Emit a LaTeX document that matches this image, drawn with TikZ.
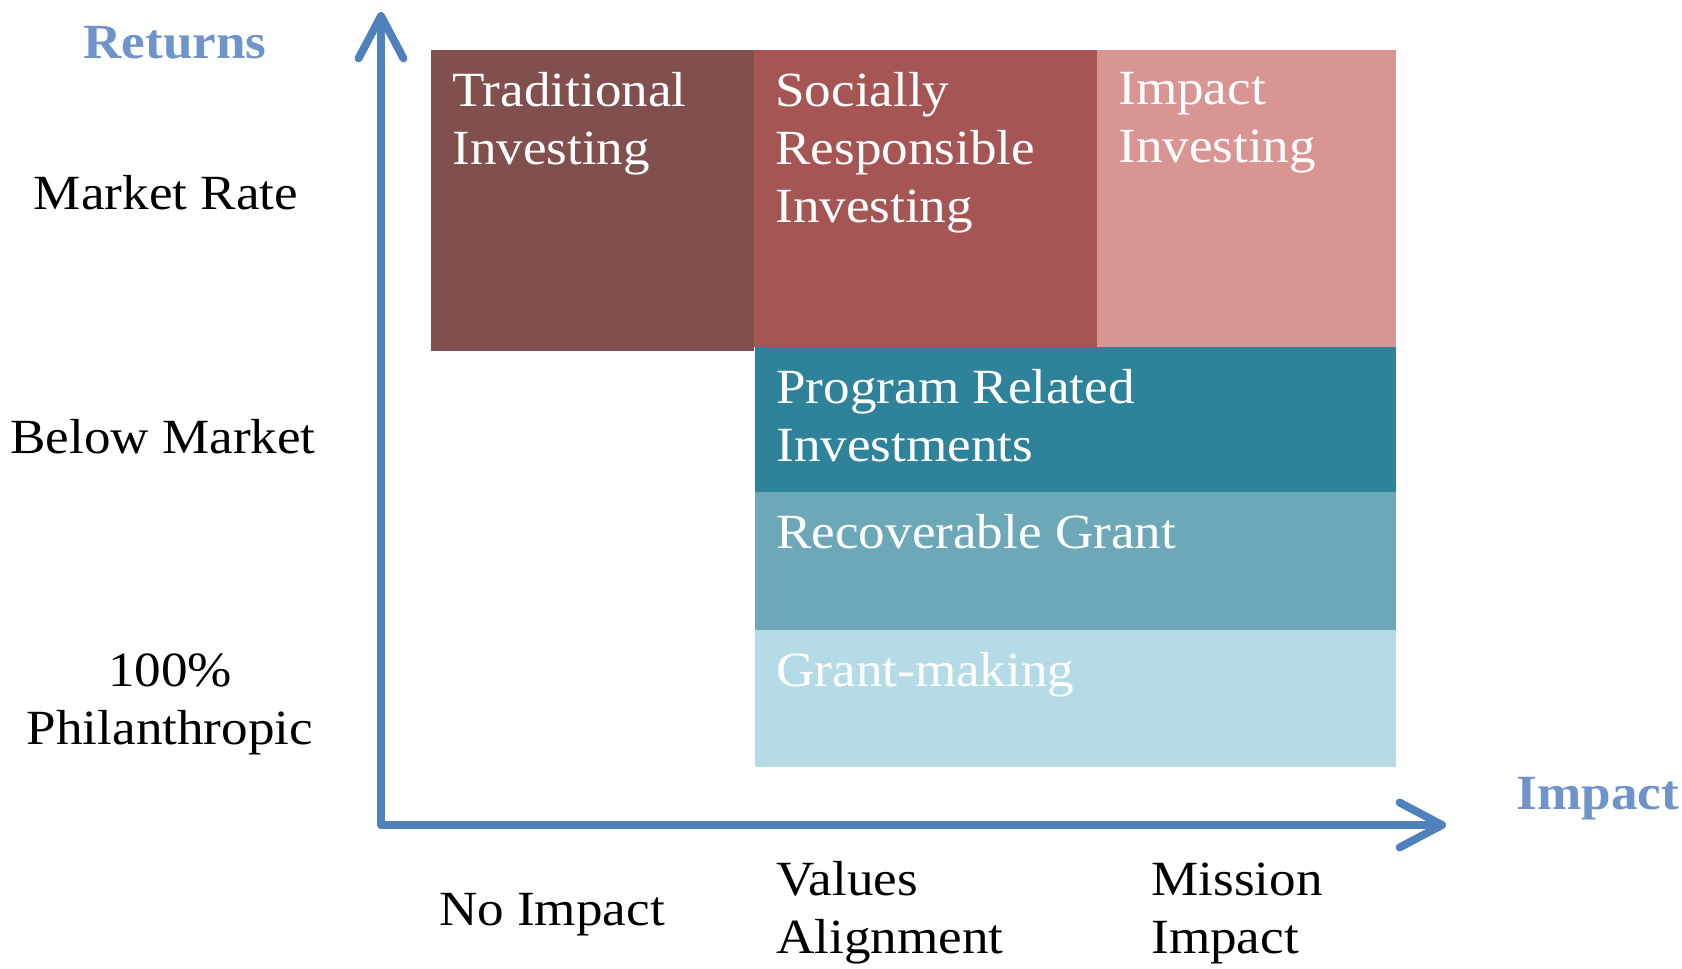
\documentclass[tikz,border=0pt]{standalone}
\usepackage{fontspec}
\setmainfont[FakeStretch=1.08]{Liberation Serif}
\usetikzlibrary{arrows.meta}
\definecolor{tradfill}{HTML}{814F4D}
\definecolor{srifill}{HTML}{A65555}
\definecolor{impfill}{HTML}{D99594}
\definecolor{prifill}{HTML}{2E8299}
\definecolor{recfill}{HTML}{6DA8B9}
\definecolor{grantfill}{HTML}{B5DCE6}
\definecolor{axisblue}{HTML}{4F81BD}
\definecolor{labelblue}{HTML}{6F94CA}
\newcommand{\bigfont}{\fontsize{28}{33}\selectfont}
\tikzset{
  box/.style={draw=none,inner sep=0pt,anchor=north west},
  boxtext/.style={anchor=north west,align=left,text=white,inner xsep=0.42cm,inner ysep=0.44cm,font=\bigfont},
  axislabel/.style={font=\bigfont,align=center},
  axis/.style={line width=4.5pt,draw=axisblue,line cap=round,line join=round,
    -{Straight Barb[length=0.85cm,width=0.9cm,line cap=round,round]}}
}
\begin{document}
\begin{tikzpicture}[x=0.02cm,y=-0.02cm]
\useasboundingbox (0,0) rectangle (1682,969);
%boxes
\node[box,fill=tradfill,minimum width=6.46cm,minimum height=6.02cm](trad)at(431,50){};
\node[box,fill=srifill,minimum width=6.86cm,minimum height=5.94cm](sri)at(754,50){};
\node[box,fill=impfill,minimum width=5.98cm,minimum height=5.94cm](imp)at(1097,50){};
\node[box,fill=prifill,minimum width=12.82cm,minimum height=2.9cm](pri)at(755,347){};
\node[box,fill=recfill,minimum width=12.82cm,minimum height=2.76cm](rec)at(755,492){};
\node[box,fill=grantfill,minimum width=12.82cm,minimum height=2.74cm](grant)at(755,630){};
%box texts
\node[boxtext](tradtext)at(trad.north west){Traditional\\Investing};
\node[boxtext](sritext)at(sri.north west){Socially\\Responsible\\Investing};
\node[boxtext](imptext)at(imp.north west){Impact\\Investing};
\node[boxtext](pritext)at(pri.north west){Program Related\\Investments};
\node[boxtext](rectext)at(rec.north west){Recoverable Grant};
\node[boxtext](granttext)at(grant.north west){Grant-making};
%axes
\coordinate(origin)at(381,825);
\coordinate(ytip)at(381,12);
\coordinate(xtip)at(1446,825);
\draw[axis](origin)--(ytip);
\draw[axis](origin)--(xtip);
%labels
\node[axislabel,text=labelblue,font=\bigfont\bfseries](returns)at(175,43){Returns};
\node[axislabel,text=labelblue,font=\bigfont\bfseries](impact)at(1598,799){Impact};
\node[axislabel](market)at(166,193){Market Rate};
\node[axislabel](below)at(163,437){Below Market};
\node[axislabel](phil)at(170,704){100\%\\Philanthropic};
\node[axislabel](noimp)at(552,915){No Impact};
\node[axislabel,align=left,anchor=west,inner xsep=0pt](values)at(776,913){Values\\Alignment};
\node[axislabel,align=left,anchor=west,inner xsep=0pt](mission)at(1151,913){Mission\\Impact};
\end{tikzpicture}
\end{document}
